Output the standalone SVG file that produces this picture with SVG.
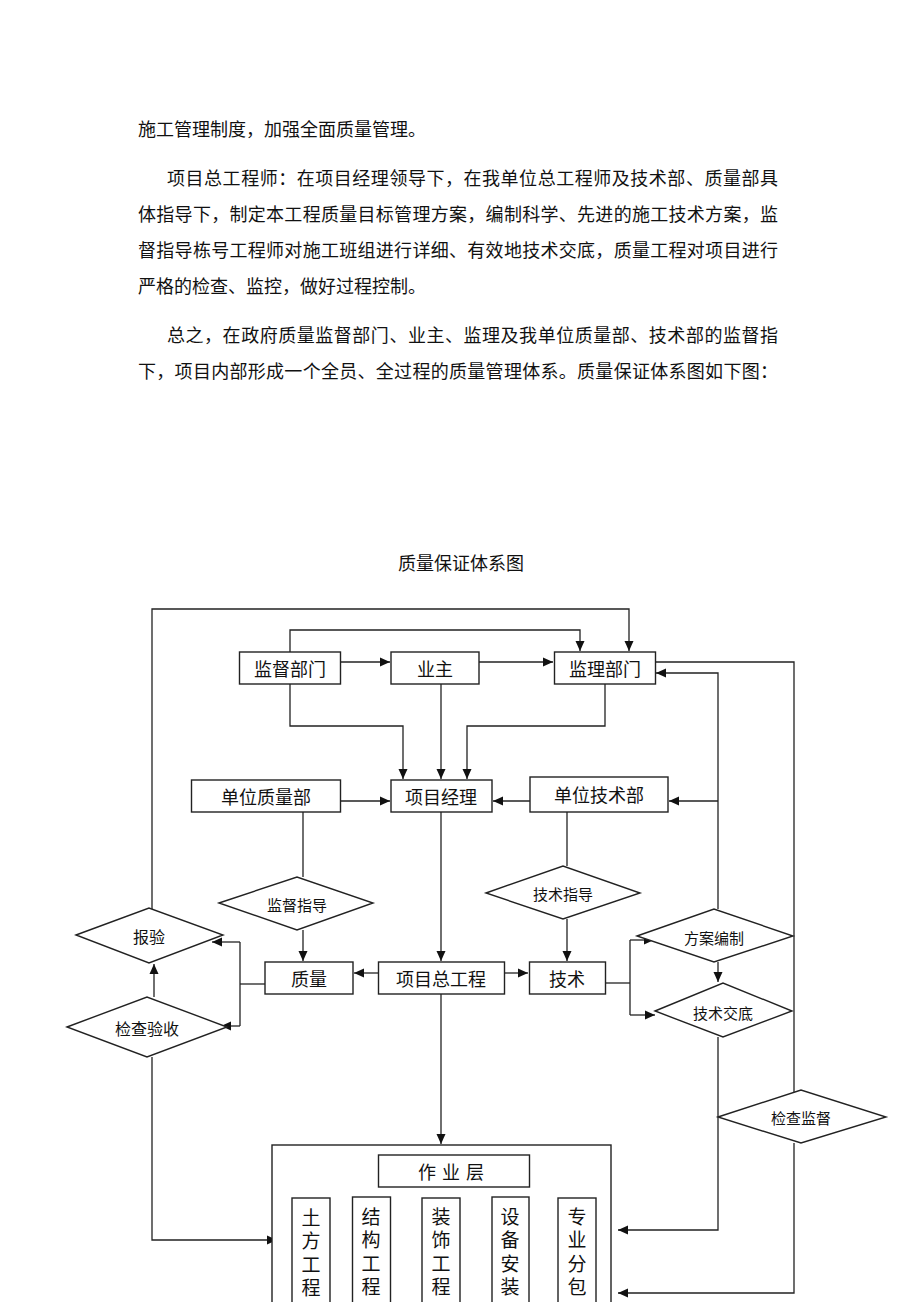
<svg xmlns="http://www.w3.org/2000/svg" width="920" height="1302" viewBox="0 0 920 1302">
<style>
.p{font-family:"Noto Sans CJK SC","Noto Sans",sans-serif;font-size:18px;fill:#111}
.t{font-family:"Noto Sans CJK SC","Noto Sans",sans-serif;font-size:18px;fill:#111;text-anchor:middle;dominant-baseline:central}
.d{font-family:"Noto Sans CJK SC","Noto Sans",sans-serif;font-size:15px;fill:#111;text-anchor:middle;dominant-baseline:central}
.v{font-family:"Noto Sans CJK SC","Noto Sans",sans-serif;font-size:19px;fill:#111;writing-mode:vertical-rl;text-orientation:upright;letter-spacing:4.5px}
.b{fill:#fff;stroke:#222;stroke-width:1.4}
.c{fill:none;stroke:#222;stroke-width:1.3}
</style>
<defs>
<marker id="a" markerUnits="userSpaceOnUse" markerWidth="10" markerHeight="10" viewBox="0 0 10 10" refX="10" refY="5" orient="auto"><path d="M0,0.5 L10,5 L0,9.5 Z" fill="#111"/></marker>
</defs>
<rect width="920" height="1302" fill="#fff"/>
<g id="paragraph">
<text class="p" x="138" y="136">施工管理制度，加强全面质量管理。</text>
<text class="p" x="167" y="185" textLength="611" lengthAdjust="spacing">项目总工程师：在项目经理领导下，在我单位总工程师及技术部、质量部具</text>
<text class="p" x="138" y="221" textLength="640" lengthAdjust="spacing">体指导下，制定本工程质量目标管理方案，编制科学、先进的施工技术方案，监</text>
<text class="p" x="138" y="257" textLength="640" lengthAdjust="spacing">督指导栋号工程师对施工班组进行详细、有效地技术交底，质量工程对项目进行</text>
<text class="p" x="138" y="293">严格的检查、监控，做好过程控制。</text>
<text class="p" x="167" y="342" textLength="611" lengthAdjust="spacing">总之，在政府质量监督部门、业主、监理及我单位质量部、技术部的监督指</text>
<text class="p" x="138" y="378" textLength="640" lengthAdjust="spacing">下，项目内部形成一个全员、全过程的质量管理体系。质量保证体系图如下图：</text>
<text class="p" x="461" y="570" text-anchor="middle">质量保证体系图</text>
</g>
<g id="connectors">
<path class="c" d="M152,909 V609 H629 V651" marker-end="url(#a)"/>
<path class="c" d="M290,652 V630 H580 V651" marker-end="url(#a)"/>
<path class="c" d="M340,662 H390" marker-end="url(#a)"/>
<path class="c" d="M479,662 H553" marker-end="url(#a)"/>
<path class="c" d="M290,684 V726 H403 V779" marker-end="url(#a)"/>
<path class="c" d="M441,684 V779" marker-end="url(#a)"/>
<path class="c" d="M605,684 V726 H467 V779" marker-end="url(#a)"/>
<path class="c" d="M341,801 H390" marker-end="url(#a)"/>
<path class="c" d="M530,801 H493" marker-end="url(#a)"/>
<path class="c" d="M655,662 H794 V1092"/>
<path class="c" d="M794,1143 V1293 H618" marker-end="url(#a)"/>
<path class="c" d="M718,909 V673 H656" marker-end="url(#a)"/>
<path class="c" d="M718,801 H669" marker-end="url(#a)"/>
<path class="c" d="M303,812 V877"/>
<path class="c" d="M303,930 V961" marker-end="url(#a)"/>
<path class="c" d="M567,812 V866"/>
<path class="c" d="M567,919 V961" marker-end="url(#a)"/>
<path class="c" d="M441,812 V961" marker-end="url(#a)"/>
<path class="c" d="M378,973 H354" marker-end="url(#a)"/>
<path class="c" d="M504,973 H528" marker-end="url(#a)"/>
<path class="c" d="M265,984 H240"/>
<path class="c" d="M240,942 V1026"/>
<path class="c" d="M240,942 H212" marker-end="url(#a)"/>
<path class="c" d="M240,1026 H221" marker-end="url(#a)"/>
<path class="c" d="M154,997 V964" marker-end="url(#a)"/>
<path class="c" d="M152,1057 V1240 H277" marker-end="url(#a)"/>
<path class="c" d="M441,994 V1144" marker-end="url(#a)"/>
<path class="c" d="M605,983 H630"/>
<path class="c" d="M630,940 V1015"/>
<path class="c" d="M630,940 H654" marker-end="url(#a)"/>
<path class="c" d="M630,1015 H655" marker-end="url(#a)"/>
<path class="c" d="M718,962 V982" marker-end="url(#a)"/>
<path class="c" d="M718,1037 V1230 H618" marker-end="url(#a)"/>
</g>
<g id="jiandubumen"><rect class="b" x="239.5" y="652" width="101" height="32"/><text class="t" x="290" y="668">监督部门</text></g>
<g id="yezhu"><rect class="b" x="391" y="652" width="88" height="32"/><text class="t" x="435" y="668">业主</text></g>
<g id="jianlibumen"><rect class="b" x="554.5" y="652" width="101" height="32"/><text class="t" x="605" y="668">监理部门</text></g>
<g id="xiangmujingli"><rect class="b" x="391" y="780" width="101" height="32"/><text class="t" x="441" y="796">项目经理</text></g>
<g id="danweizhiliangbu"><rect class="b" x="191.5" y="780" width="149" height="32"/><text class="t" x="266" y="796">单位质量部</text></g>
<g id="danweijishubu"><rect class="b" x="530" y="777" width="138" height="35"/><text class="t" x="599" y="794">单位技术部</text></g>
<g id="jiandu"><polygon class="b" points="219,903 297,877 373,903 297,930"/><text class="d" x="297" y="904">监督指导</text></g>
<g id="jishuzhidao"><polygon class="b" points="486,893 563,866 640,893 563,919"/><text class="d" x="563" y="893">技术指导</text></g>
<g id="baoyan"><polygon class="b" points="76,935 149,908 223,935 149,963"/><text class="d" x="149" y="936" style="font-size:16px">报验</text></g>
<g id="jianchayanshou"><polygon class="b" points="67,1027 147,997 227,1027 147,1057"/><text class="d" x="147" y="1028" style="font-size:16px">检查验收</text></g>
<g id="fanganbianzhi"><polygon class="b" points="637,936 714,909 793,936 714,962"/><text class="d" x="714" y="937">方案编制</text></g>
<g id="jishujiaodi"><polygon class="b" points="655,1011 723,983 792,1011 723,1037"/><text class="d" x="723" y="1012">技术交底</text></g>
<g id="jianchajiandu"><polygon class="b" points="718,1117 801,1090 886,1117 801,1143"/><text class="d" x="801" y="1117">检查监督</text></g>
<g id="zhiliang"><rect class="b" x="265" y="962" width="88" height="32"/><text class="t" x="309" y="978">质量</text></g>
<g id="xiangmuzonggongcheng"><rect class="b" x="378.5" y="962" width="126" height="32"/><text class="t" x="441" y="978">项目总工程</text></g>
<g id="jishu"><rect class="b" x="529.5" y="962" width="76" height="32"/><text class="t" x="567" y="978">技术</text></g>
<g id="zuoyeceng">
<rect class="b" x="272" y="1145" width="339" height="200"/>
<rect class="b" x="378.5" y="1155" width="151" height="32"/>
<text class="t" x="454" y="1171" style="letter-spacing:6px">作业层</text>
</g>
<g id="tufang"><rect class="b" x="292" y="1198" width="38" height="140"/><text class="v" x="311" y="1208">土方工程</text></g>
<g id="jiegou"><rect class="b" x="352.5" y="1197" width="38" height="140"/><text class="v" x="371" y="1207">结构工程</text></g>
<g id="zhuangshi"><rect class="b" x="422" y="1198" width="38" height="140"/><text class="v" x="441" y="1207">装饰工程</text></g>
<g id="shebei"><rect class="b" x="492" y="1197" width="37" height="140"/><text class="v" x="510" y="1207">设备安装</text></g>
<g id="zhuanye"><rect class="b" x="558" y="1198" width="38" height="140"/><text class="v" x="577" y="1207">专业分包</text></g>
</svg>
